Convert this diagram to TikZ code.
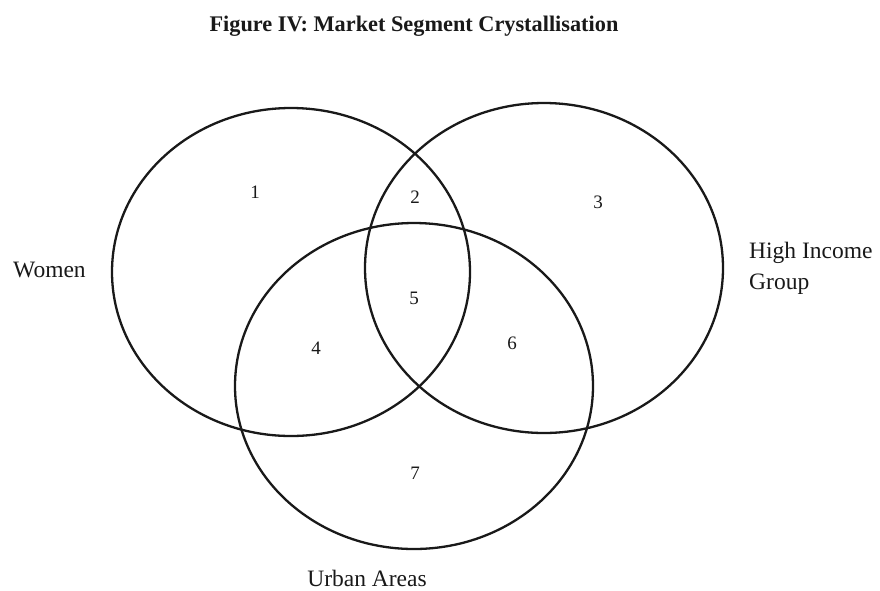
\documentclass[tikz,border=0pt]{standalone}
\usepackage{fontspec}
\setmainfont{Liberation Serif}
\begin{document}
\begin{tikzpicture}[x=1pt,y=-1pt,
  setcircle/.style={draw=black!90,line width=2.3pt},
  setlabel/.style={font=\fontsize{23.5}{31}\selectfont,inner sep=0pt,text=black!90},
  regionno/.style={font=\fontsize{19}{22}\selectfont,inner sep=0pt,text=black!90},
  titlestyle/.style={font=\bfseries\fontsize{22.3}{26}\selectfont,inner sep=0pt,text=black!90}]
\useasboundingbox (0,0) rectangle (880,590);
\fill[white] (0,0) rectangle (880,590);
\node[titlestyle] (title) at (414,26) {Figure IV: Market Segment Crystallisation};
\draw[setcircle] (291,272) ellipse [x radius=179pt, y radius=164pt];
\draw[setcircle] (544,268) ellipse [x radius=179pt, y radius=165pt];
\draw[setcircle] (414,386) ellipse [x radius=179pt, y radius=163pt];
\node[regionno] (r1) at (255,192) {1};
\node[regionno] (r2) at (415,197) {2};
\node[regionno] (r3) at (598,202) {3};
\node[regionno] (r4) at (316,348) {4};
\node[regionno] (r5) at (414,298) {5};
\node[regionno] (r6) at (512,343) {6};
\node[regionno] (r7) at (415,473) {7};
\node[setlabel,anchor=west] (women) at (13,270) {Women};
\node[setlabel,anchor=west,align=left] (high) at (749,268) {High Income\\Group};
\node[setlabel] (urban) at (367,578) {Urban Areas};
\end{tikzpicture}
\end{document}
